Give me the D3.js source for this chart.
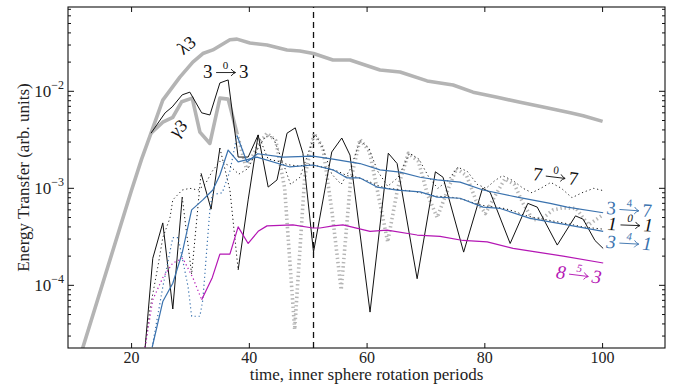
<!DOCTYPE html>
<html>
<head>
<meta charset="utf-8">
<script src="https://cdn.jsdelivr.net/npm/d3@7"></script>
<style>
  body { margin: 0; background: #fff; }
</style>
</head>
<body>
<svg id="chart" width="674" height="386" font-family="'Liberation Serif', 'Times New Roman', 'DejaVu Serif', serif"></svg>
<script>
// values are |energy transfer|; a negative number means the segment is drawn dotted
var xTicks = [20, 40, 60, 80, 100];
var yTicks = [1e-4, 1e-3, 1e-2];
var markTime = 50.9;

var lambda3 = [[10,1.05e-5],[20,9.6e-4],[21.7,2.0e-3],[23.3,3.7e-3],[25.3,8.1e-3],[28.2,1.4e-2],[30.4,2.0e-2],
  [32.1,2.45e-2],[33.8,2.67e-2],[36.7,3.4e-2],[37.9,3.45e-2],[40.1,3.15e-2],[43,3.0e-2],[46.4,2.67e-2],
  [48.6,2.6e-2],[50.9,2.45e-2],[54.2,2.1e-2],[57.1,2.1e-2],[62.2,1.66e-2],[65.6,1.58e-2],[70.2,1.28e-2],
  [74.6,1.16e-2],[78,9.8e-3],[82.1,8.7e-3],[86,7.7e-3],[89.9,6.9e-3],[94.5,6.0e-3],[96.7,5.6e-3],[100,4.9e-3]];

var gamma3 = [[23.3,3.7e-3],[25.3,4.8e-3],[27.0,5.4e-3],[28.5,7.8e-3],[30.3,8.5e-3],[31.6,3.8e-3],[33.3,2.9e-3],
  [35.0,8.5e-3],[36.4,8.3e-3],[37.2,5.4e-3],[37.9,3.7e-3],[39.5,-1.6e-3],[41.5,-2.8e-3],[43.0,-3.7e-3],
  [44.5,-3.1e-3],[46.0,-1.0e-3],[47.7,-3.5e-5],[49.4,-1.3e-3],[51.0,-3.7e-3],[52.5,-2.6e-3],[54.0,-6e-4],
  [55.6,-9e-5],[57.2,-1.2e-3],[58.8,-3.2e-3],[60.4,-2.4e-3],[62.0,-8e-4],[63.5,-2.8e-4],[65.2,-1.0e-3],
  [67.0,-2.3e-3],[68.7,-1.9e-3],[70.3,-8.5e-4],[71.9,-5.0e-4],[73.5,-9.0e-4],[75.2,-1.6e-3],[76.9,-1.35e-3],
  [78.5,-7.5e-4],[80.1,-5.5e-4],[81.8,-8.5e-4],[83.4,-1.25e-3],[85.0,-1.1e-3],[86.5,-7.0e-4],[88.2,-4.7e-4],
  [90.0,-5.0e-4],[91.6,-6.0e-4],[93.3,-6.3e-4],[95.5,-6.2e-4],[97.6,-4.2e-4],[100,-5.3e-4]];

var k33 = [[23.3,3.7e-3],[25.7,6.0e-3],[26.9,6.9e-3],[28.6,9.2e-3],[29.9,9.8e-3],[31.9,6.0e-3],[33.3,5.7e-3],
  [35.0,1.22e-2],[36.4,1.31e-2],[38.1,2.1e-3],[39.8,2.1e-3],[41.5,3.55e-3],[43.2,-2.0e-3],[44.9,-1.9e-3],
  [46.6,-1.75e-3],[48.3,-1.7e-3],[50,-1.75e-3],[51.6,-1.7e-3],[53.3,-1.6e-3],[55,-1.5e-3],[56.6,-1.35e-3],
  [58.3,-1.3e-3],[60,-1.2e-3],[61.6,-1.08e-3],[63.3,-1.0e-3],[65,-9.8e-4],[66.6,-9.5e-4],[68.3,-9.2e-4],
  [70,-8.8e-4],[71.6,-8.3e-4],[73.3,-8.2e-4],[75,-8.0e-4],[76.6,-7.6e-4],[78.3,-7.0e-4],[80,-6.6e-4],
  [81.6,-6.4e-4],[83.3,-6.2e-4],[85,-5.8e-4],[86.6,-5.3e-4],[88.3,-5.0e-4],[90,-4.8e-4],[91.6,-4.6e-4],
  [93.3,-4.4e-4],[95,-4.2e-4],[96.6,-4.0e-4],[98.3,-3.9e-4],[100,-3.8e-4]];

var k11 = [[22.3,2.3e-5],[23.6,1.9e-4],[25.3,4.4e-4],[27.0,5.7e-5],[28.6,8.1e-4],[30.2,-1.3e-4],[31.8,1.43e-3],
  [33.5,6.1e-4],[35.0,2.6e-3],[36.7,-9.6e-4],[38.1,1.44e-4],[39.8,7.6e-4],[41.5,3.55e-3],[43.2,1.03e-3],
  [44.7,1.22e-3],[46.4,3.7e-3],[47.8,4.2e-3],[49.1,2.3e-3],[50.9,2.2e-4],[54.0,2.37e-3],[55.7,3.3e-3],
  [57.1,2.2e-3],[60.5,5.3e-5],[63.6,2.3e-3],[65.1,1.8e-3],[68.5,1.17e-4],[71.6,1.48e-3],[72.9,1.3e-3],
  [76.4,2.2e-4],[79.6,1.0e-3],[80.9,9.1e-4],[84.3,2.7e-4],[87.3,7.0e-4],[88.9,6.4e-4],[92.3,2.6e-4],
  [95.4,5.2e-4],[96.7,4.8e-4],[98.7,2.9e-4],[100.1,2.4e-4]];

var k77 = [[22.3,-2.3e-5],[23.1,-5.6e-5],[24.5,-1.6e-4],[25.3,-3.1e-4],[26.5,-4.9e-4],[27.0,-7.6e-4],
  [28.6,-9.6e-4],[29.9,-1.0e-3],[31.3,-9.6e-4],[32.5,-1.1e-3],[33.7,-1.5e-3],[35.0,-1.9e-3],[36.7,-1.7e-3],
  [38.2,-1.4e-3],[39.8,-1.6e-3],[41.5,-2.6e-3],[42.7,-3.4e-3],[44,-3.4e-3],[45.5,-2.0e-3],[47,-1.1e-3],
  [48.6,-1.3e-3],[50.3,-2.6e-3],[51.2,-3.6e-3],[52.5,-2.6e-3],[54,-1.4e-3],[55.6,-1.1e-3],[57.2,-1.6e-3],
  [58.8,-3.1e-3],[60.3,-2.6e-3],[61.8,-1.5e-3],[63.5,-1.05e-3],[65.3,-1.3e-3],[67.2,-2.3e-3],[68.8,-2.0e-3],
  [70.5,-1.3e-3],[72,-1.0e-3],[73.7,-1.2e-3],[75.4,-1.65e-3],[77,-1.5e-3],[78.7,-1.1e-3],[80.2,-1.0e-3],
  [81.7,-1.2e-3],[83,-1.35e-3],[84.8,-1.2e-3],[86.5,-1.0e-3],[88,-9e-4],[89.5,-1.0e-3],[91.2,-1.15e-3],
  [93,-1.0e-3],[94.8,-8e-4],[96.5,-9e-4],[98.5,-1.0e-3],[100,-9.5e-4]];

var b37 = [[23.6,-2.5e-5],[25.3,-9.6e-5],[27.0,-3.1e-4],[27.9,-3.1e-4],[28.7,-1.8e-4],[29.6,-9.6e-5],
  [30.2,-4.8e-5],[31.6,-4.8e-5],[32.1,-7.1e-5],[33.3,-6.0e-4],[33.7,-8.6e-4],[35.4,-9e-4],[36.7,-1.5e-3],
  [37.9,3.5e-3],[39.6,1.87e-3],[41.4,2.27e-3],[45.7,2.1e-3],[50.8,2.15e-3],[54.2,2.0e-3],[58.8,1.8e-3],
  [62.2,1.55e-3],[65.6,1.47e-3],[69.0,1.3e-3],[71.9,1.22e-3],[75.8,1.16e-3],[79.7,9.6e-4],[85.5,8.1e-4],
  [91.1,7.0e-4],[94.0,6.4e-4],[100.1,5.6e-4]];

var b31 = [[23.5,2.3e-5],[25.3,6.8e-5],[27.0,1.05e-4],[28.6,2.16e-4],[30.2,6.0e-4],[32.1,7.6e-4],[33.8,9.6e-4],
  [35.0,1.37e-3],[36.4,2.48e-3],[38.1,1.87e-3],[41.3,2.1e-3],[46.9,1.66e-3],[50.8,1.74e-3],[54.2,1.55e-3],
  [56.6,1.28e-3],[58.8,1.28e-3],[61.7,1.03e-3],[65.1,9.6e-4],[69.0,9.2e-4],[71.9,8.1e-4],[75.8,7.9e-4],
  [79.7,6.4e-4],[82.6,6.2e-4],[87.7,4.9e-4],[94.0,4.2e-4],[100.1,3.6e-4]];

var m83 = [[22.3,-2.3e-5],[23.6,-7.1e-5],[25.3,-1.2e-4],[27.0,-1.7e-4],[28.7,-1.9e-4],[30.4,-1.2e-4],
  [31.9,7.1e-5],[33.7,1.2e-4],[35.0,2.1e-4],[36.7,2.1e-4],[38.1,4.0e-4],[39.8,2.7e-4],[41.5,3.6e-4],
  [43.0,4.1e-4],[47.4,4.2e-4],[50.8,3.9e-4],[52.0,3.9e-4],[54.2,4.1e-4],[55.9,4.2e-4],[60.5,3.6e-4],
  [63.4,3.7e-4],[68.5,3.3e-4],[72.4,3.2e-4],[76.3,2.9e-4],[80.4,2.8e-4],[84.8,2.4e-4],[88.9,2.2e-4],
  [93.3,2.0e-4],[100.1,1.7e-4]];

var grey = "#b4b4b4", blue = "#3a72ae", magenta = "#b416b4";

var series = [
  {data: lambda3, color: grey, width: 3.6},
  {data: gamma3, color: grey, width: 3.6},
  {data: k77, color: "#222", width: 1},
  {data: k33, color: "#111", width: 1},
  {data: k11, color: "#111", width: 1},
  {data: b37, color: blue, width: 1.2},
  {data: b31, color: blue, width: 1.2},
  {data: m83, color: magenta, width: 1.2}
];

// [time, value, left, over, right, colour, rotation, italic]
var labels = [
  [32.15, 1.37e-2, "3", "0", "3", "#111", 0, false],
  [88.05, 1.22e-3, "7", "0", "7", "#111", 7, false],
  [100.6, 5.43e-4, "3", "4", "7", blue, 4, false],
  [100.8, 3.72e-4, "1", "0", "1", "#111", 2, true],
  [100.6, 2.43e-4, "3", "4", "1", blue, 3, true],
  [92.0, 1.19e-4, "8", "5", "3", magenta, 7, true]
];

var svg = d3.select("#chart");
var margin = {left: 68, right: 9, top: 7, bottom: 38};
var W = 674, H = 386;
var serif = "'Liberation Serif', 'Times New Roman', 'DejaVu Serif', serif";

var x = d3.scaleLinear().domain([9.2, 110.6]).range([margin.left, W - margin.right]);
var y = d3.scaleLog().domain([Math.pow(10, -4.646), Math.pow(10, -1.131)]).range([H - margin.bottom, margin.top]);

svg.append("rect").attr("width", W).attr("height", H).attr("fill", "#fff");

svg.append("clipPath").attr("id", "clip")
  .append("rect")
  .attr("x", x.range()[0]).attr("y", y.range()[1])
  .attr("width", x.range()[1] - x.range()[0])
  .attr("height", y.range()[0] - y.range()[1]);

var plot = svg.append("g").attr("clip-path", "url(#clip)");

// split a series into solid / dotted runs (dotted where either end is negative)
function runs(data) {
  var out = [];
  for (var i = 0; i < data.length - 1; i++) {
    var a = data[i], b = data[i + 1];
    var dotted = a[1] < 0 || b[1] < 0;
    var last = out[out.length - 1];
    if (last && last.dotted === dotted) last.pts.push(b);
    else out.push({dotted: dotted, pts: [a, b]});
  }
  return out;
}

var line = d3.line()
  .x(function(d) { return x(d[0]); })
  .y(function(d) { return y(Math.abs(d[1])); });

// dashed marker line
plot.append("line")
  .attr("x1", x(markTime)).attr("x2", x(markTime))
  .attr("y1", y.range()[0]).attr("y2", y.range()[1])
  .attr("stroke", "#111").attr("stroke-width", 1.3)
  .attr("stroke-dasharray", "6,4");

series.forEach(function(s) {
  runs(s.data).forEach(function(r) {
    plot.append("path")
      .attr("d", line(r.pts))
      .attr("fill", "none")
      .attr("stroke", s.color)
      .attr("stroke-width", s.width)
      .attr("stroke-linejoin", "round")
      .attr("stroke-dasharray", r.dotted ? (s.width > 2 ? "1.4,2.8" : "1.2,2.8") : null);
  });
});

// frame
var x0 = x.range()[0], x1 = x.range()[1], yb = y.range()[0], yt = y.range()[1];
svg.append("rect")
  .attr("x", x0).attr("y", yt).attr("width", x1 - x0).attr("height", yb - yt)
  .attr("fill", "none").attr("stroke", "#111").attr("stroke-width", 1.1);

var ticks = svg.append("g").attr("stroke", "#111").attr("stroke-width", 1);

xTicks.forEach(function(t) {
  ticks.append("line").attr("x1", x(t)).attr("x2", x(t)).attr("y1", yb).attr("y2", yb - 5);
  ticks.append("line").attr("x1", x(t)).attr("x2", x(t)).attr("y1", yt).attr("y2", yt + 5);
});

yTicks.forEach(function(v) {
  ticks.append("line").attr("x1", x0).attr("x2", x0 + 6).attr("y1", y(v)).attr("y2", y(v));
  ticks.append("line").attr("x1", x1).attr("x2", x1 - 6).attr("y1", y(v)).attr("y2", y(v));
});

var minor = [];
[-5, -4, -3, -2].forEach(function(k) {
  for (var m = 2; m <= 9; m++) {
    var v = m * Math.pow(10, k);
    if (v > y.domain()[0] && v < y.domain()[1]) minor.push(v);
  }
});
minor.forEach(function(v) {
  ticks.append("line").attr("x1", x0).attr("x2", x0 + 3).attr("y1", y(v)).attr("y2", y(v));
  ticks.append("line").attr("x1", x1).attr("x2", x1 - 3).attr("y1", y(v)).attr("y2", y(v));
});

// tick labels
xTicks.forEach(function(t) {
  svg.append("text")
    .attr("x", x(t)).attr("y", yb + 15)
    .attr("text-anchor", "middle")
    .attr("font-family", serif)
    .attr("font-size", 16)
    .attr("fill", "#222")
    .text(t);
});

yTicks.forEach(function(v) {
  var e = Math.round(Math.log10(v));
  var tx = svg.append("text")
    .attr("x", x0 - 4).attr("y", y(v) + 6)
    .attr("text-anchor", "end")
    .attr("font-family", serif)
    .attr("font-size", 17)
    .attr("fill", "#222");
  tx.append("tspan").text("10");
  tx.append("tspan").attr("dy", -8).attr("font-size", 12).text("\u2212" + Math.abs(e));
});

// axis titles
svg.append("text")
  .attr("x", (x0 + x1) / 2).attr("y", H - 6)
  .attr("text-anchor", "middle")
  .attr("font-family", serif)
  .attr("font-size", 17)
  .attr("fill", "#222")
  .text("time, inner sphere rotation periods");

svg.append("text")
  .attr("transform", "translate(29," + ((yt + yb) / 2) + ") rotate(-90)")
  .attr("text-anchor", "middle")
  .attr("font-family", serif)
  .attr("font-size", 17)
  .attr("fill", "#222")
  .text("Energy Transfer (arb. units)");

// rotated curve names
svg.append("text")
  .attr("transform", "translate(" + x(29.43) + "," + y(2.93e-2) + ") rotate(-38)")
  .attr("text-anchor", "middle").attr("dy", 5)
  .attr("font-family", serif)
  .attr("font-size", 18).attr("fill", "#111")
  .text("\u03bb3");

svg.append("text")
  .attr("transform", "translate(" + x(28.04) + "," + y(4.08e-3) + ") rotate(-45)")
  .attr("text-anchor", "middle").attr("dy", 5)
  .attr("font-family", serif)
  .attr("font-size", 18).attr("fill", "#111")
  .text("\u03b33");

// transfer labels: left --over--> right
labels.forEach(function(l) {
  var g = svg.append("g")
    .attr("transform", "translate(" + x(l[0]) + "," + y(l[1]) + ") rotate(" + l[6] + ")")
    .attr("font-family", serif)
    .attr("fill", l[5]);
  var st = l[7] ? "italic" : "normal";
  g.append("text").attr("x", 0).attr("font-size", 19).attr("font-style", st).text(l[2]);
  g.append("text").attr("x", 22.5).attr("y", -9).attr("text-anchor", "middle")
    .attr("font-size", 11).attr("font-style", st).text(l[3]);
  g.append("path")
    .attr("d", "M13,-5.5H32M28,-9Q29.5,-6.5 32.5,-5.5Q29.5,-4.5 28,-2")
    .attr("fill", "none").attr("stroke", l[5]).attr("stroke-width", 0.9);
  g.append("text").attr("x", 36).attr("font-size", 19).attr("font-style", st).text(l[4]);
});
</script>
</body>
</html>
